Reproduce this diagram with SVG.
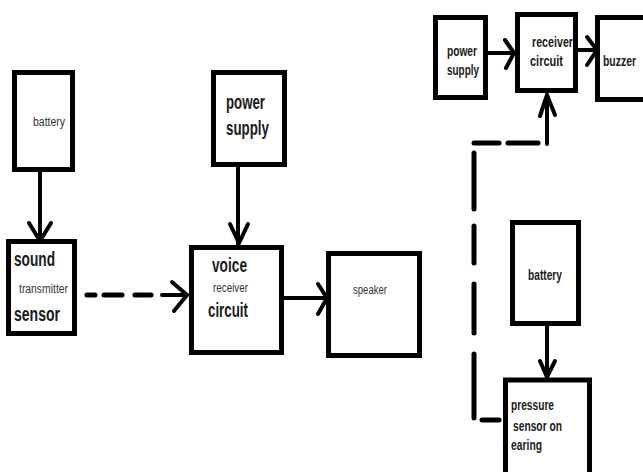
<svg xmlns="http://www.w3.org/2000/svg" width="643" height="472" viewBox="0 0 643 472">
  <defs>
    <style>
      .box { fill: #ffffff; stroke: #000000; stroke-width: 5; }
      .wire { fill: none; stroke: #000000; stroke-width: 4; stroke-linecap: round; stroke-linejoin: round; }
      .dash { fill: none; stroke: #000000; stroke-width: 5; stroke-linecap: round; }
      .head { fill: none; stroke: #000000; stroke-width: 4; stroke-linecap: round; stroke-linejoin: miter; }
      text { font-family: "Liberation Sans", Arial, sans-serif; fill: #1a1a1a; }
      .big { font-size: 20px; font-weight: bold; }
      .mid { font-size: 15px; font-weight: bold; }
      .small { font-size: 12px; fill: #333333; }
    </style>
  </defs>
  <rect width="643" height="472" fill="#ffffff"/>

  <!-- connectors -->
  <g id="connectors">
    <!-- battery -> sound sensor -->
    <line class="wire" x1="40" y1="172" x2="40" y2="240"/>
    <polyline class="head" points="29,223 40,241 51,223"/>
    <!-- sound sensor -> voice receiver (wireless, dashed) -->
    <line class="dash" x1="87" y1="295" x2="95" y2="295"/>
    <line class="dash" x1="104" y1="295" x2="122" y2="295"/>
    <line class="dash" x1="135" y1="295" x2="151" y2="295"/>
    <line class="wire" x1="162" y1="295" x2="186" y2="295"/>
    <polyline class="head" points="172,282 187,295 174,311"/>
    <!-- power supply -> voice receiver -->
    <line class="wire" x1="238" y1="166" x2="238" y2="245"/>
    <polyline class="head" points="230,224 239,243 248,224"/>
    <!-- voice receiver -> speaker -->
    <line class="wire" x1="283" y1="298" x2="326" y2="298"/>
    <polyline class="head" points="318,284 327,298 318,314"/>
    <!-- power supply -> receiver circuit -->
    <line class="wire" x1="488" y1="53" x2="515" y2="53"/>
    <polyline class="head" points="505,40 514,53 506,68"/>
    <!-- receiver circuit -> buzzer -->
    <line class="wire" x1="578" y1="50" x2="596" y2="50"/>
    <polyline class="head" points="587,37 597,50 587,65"/>
    <!-- pressure sensor -> receiver circuit (wireless, dashed) -->
    <line class="dash" x1="482" y1="420" x2="499" y2="420"/>
    <line class="dash" x1="474" y1="418" x2="474" y2="354"/>
    <line class="dash" x1="474" y1="333" x2="474" y2="284"/>
    <line class="dash" x1="474" y1="263" x2="474" y2="226"/>
    <line class="dash" x1="474" y1="209" x2="474" y2="153"/>
    <line class="dash" x1="474" y1="143" x2="499" y2="143"/>
    <line class="dash" x1="508" y1="143" x2="538" y2="143"/>
    <line class="wire" x1="547" y1="144" x2="547" y2="96"/>
    <polyline class="head" points="540,116 547,95 555,115"/>
    <!-- battery -> pressure sensor -->
    <line class="wire" x1="547" y1="326" x2="547" y2="376"/>
    <polyline class="head" points="540,361 547,377 555,361"/>
  </g>

  <!-- left system: transmitter side -->
  <g id="battery-left">
    <rect class="box" x="14.5" y="72.5" width="58" height="97"/>
    <text class="small" x="33" y="126" textLength="32" lengthAdjust="spacingAndGlyphs">battery</text>
  </g>
  <g id="sound-sensor">
    <rect class="box" x="8.5" y="241.5" width="66" height="92"/>
    <text class="big" x="14" y="266" textLength="41" lengthAdjust="spacingAndGlyphs">sound</text>
    <text class="small" x="19" y="293" textLength="49" lengthAdjust="spacingAndGlyphs">transmitter</text>
    <text class="big" x="14" y="321" textLength="46" lengthAdjust="spacingAndGlyphs">sensor</text>
  </g>
  <g id="power-supply-mid">
    <rect class="box" x="213.5" y="72.5" width="71" height="92"/>
    <text class="big" x="226" y="109" textLength="39" lengthAdjust="spacingAndGlyphs">power</text>
    <text class="big" x="226" y="135" textLength="43" lengthAdjust="spacingAndGlyphs">supply</text>
  </g>
  <g id="voice-receiver">
    <rect class="box" x="191.5" y="247.5" width="90" height="105"/>
    <text class="big" x="212" y="272" textLength="35" lengthAdjust="spacingAndGlyphs">voice</text>
    <text class="small" x="213" y="292" textLength="35" lengthAdjust="spacingAndGlyphs">receiver</text>
    <text class="big" x="208" y="317" textLength="40" lengthAdjust="spacingAndGlyphs">circuit</text>
  </g>
  <g id="speaker">
    <rect class="box" x="328.5" y="253.5" width="91" height="102"/>
    <text class="small" x="353" y="294" textLength="34" lengthAdjust="spacingAndGlyphs">speaker</text>
  </g>

  <!-- right system: earring alarm -->
  <g id="power-supply-right">
    <rect class="box" x="435.5" y="17.5" width="50" height="80"/>
    <text class="mid" x="447" y="56" textLength="30" lengthAdjust="spacingAndGlyphs">power</text>
    <text class="mid" x="447" y="75" textLength="32" lengthAdjust="spacingAndGlyphs">supply</text>
  </g>
  <g id="receiver-circuit">
    <rect class="box" x="517.5" y="14.5" width="58" height="76"/>
    <text class="mid" x="532" y="47" textLength="41" lengthAdjust="spacingAndGlyphs">receiver</text>
    <text class="mid" x="530" y="66" textLength="33" lengthAdjust="spacingAndGlyphs">circuit</text>
  </g>
  <g id="buzzer">
    <rect class="box" x="597.5" y="17.5" width="60" height="82"/>
    <text class="mid" x="603" y="66" textLength="33" lengthAdjust="spacingAndGlyphs">buzzer</text>
  </g>
  <g id="battery-right">
    <rect class="box" x="512.5" y="222.5" width="66" height="101"/>
    <text class="mid" x="528" y="280" textLength="34" lengthAdjust="spacingAndGlyphs">battery</text>
  </g>
  <g id="pressure-sensor">
    <rect class="box" x="505.5" y="380" width="84" height="120"/>
    <text class="mid" x="511" y="410" textLength="43" lengthAdjust="spacingAndGlyphs">pressure</text>
    <text class="mid" x="513" y="431" textLength="49" lengthAdjust="spacingAndGlyphs">sensor on</text>
    <text class="mid" x="511" y="450" textLength="31" lengthAdjust="spacingAndGlyphs">earing</text>
  </g>
</svg>
